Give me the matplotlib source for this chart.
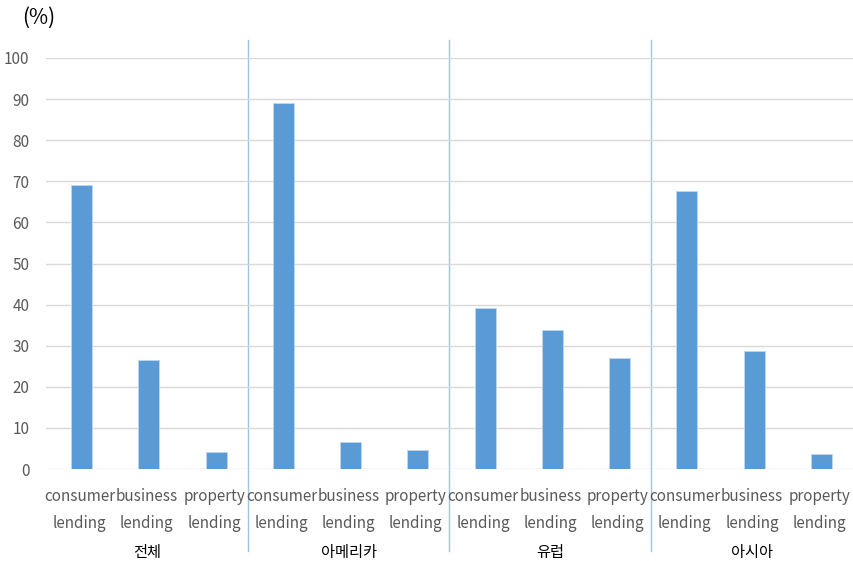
import numpy as np
import matplotlib.pyplot as plt

plt.rcParams['font.family'] = ['Noto Sans CJK KR', 'DejaVu Sans']

regions = ['전체', '아메리카', '유럽', '아시아']
lending_types = ['consumer\nlending', 'business\nlending', 'property\nlending']
shares = [
    [69.1, 26.5, 4.2],   # 전체
    [89.1, 6.5, 4.6],    # 아메리카
    [39.1, 33.9, 27.0],  # 유럽
    [67.7, 28.6, 3.6],   # 아시아
]

bar_color = '#5b9bd5'
text_color = '#595959'

fig = plt.figure(figsize=(8.54, 5.61), dpi=100)
ax = fig.add_axes([46 / 854, 92 / 561, 807 / 854, 411 / 561])

values = np.array(shares).ravel()
x = np.arange(len(values))
ax.bar(x + 0.03, values, width=0.31, color=bar_color, edgecolor='#bdd7ee', linewidth=0.6, zorder=3)

ax.set_xlim(-0.5, len(values) - 0.5)
ax.set_ylim(0, 100)
ax.set_yticks(np.arange(0, 101, 10))
ax.yaxis.grid(True, color='#d9d9d9', linewidth=1.0, zorder=0)
ax.tick_params(axis='y', length=0, pad=12, labelsize=11, labelcolor=text_color)
ax.tick_params(axis='x', length=0, pad=14, labelsize=11, labelcolor=text_color)
ax.set_xticks(x)
ax.set_xticklabels(lending_types * len(regions), linespacing=1.75)
for s in ax.spines.values():
    s.set_visible(False)

# group separators and region names
n = len(lending_types)
for i in range(1, len(regions)):
    pos = i * n - 0.5
    ax.plot([pos, pos], [-20, 104.5], color='#9dc3e6', linewidth=1.0,
            clip_on=False, zorder=1)
for i, name in enumerate(regions):
    ax.text(i * n + 1, -20.2, name, ha='center', va='center',
            fontsize=11, color='#000000')

fig.text(22 / 854, 1 - 18 / 561, '(%)', ha='left', va='center',
         fontsize=15, color='#000000')

fig.savefig('out.png', dpi=100)
